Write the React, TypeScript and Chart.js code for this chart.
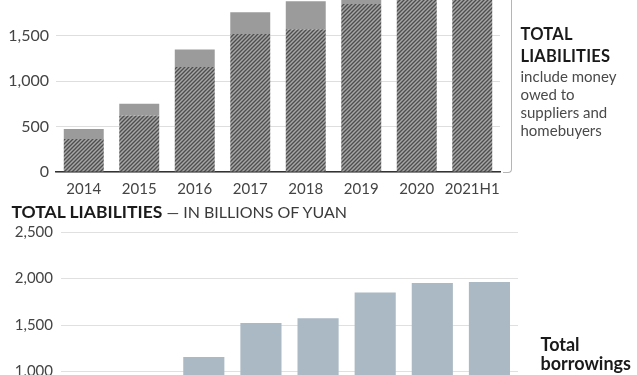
import React, { useEffect, useRef } from 'react';
import { Chart, registerables } from 'chart.js';

Chart.register(...registerables);

// ---- data ----
const years = ['2014', '2015', '2016', '2017', '2018', '2019', '2020', '2021H1'];
const borrowings = [364, 621, 1156, 1521, 1573, 1849, 1951, 1962];
const otherLiabilities = [110, 132, 192, 239, 308, 141, 60, 50];
const yMax = 2500;
const yStep = 500;

const topTitleBold = 'TOTAL';
const topTitleBold2 = 'LIABILITIES';
const topNote = ['include money', 'owed to', 'suppliers and', 'homebuyers'];
const bottomTitleBold = 'TOTAL LIABILITIES';
const bottomTitleRest = ' \u2014 IN BILLIONS OF YUAN';
const bottomNote = ['Total', 'borrowings'];

const FONT = 'Lato, "Open Sans", sans-serif';

function makeHatch(): CanvasPattern | string {
  const s = 4;
  const c = document.createElement('canvas');
  c.width = s;
  c.height = s;
  const g = c.getContext('2d');
  if (!g) return '#707070';
  g.fillStyle = '#a6a6a6';
  g.fillRect(0, 0, s, s);
  g.strokeStyle = '#4e4e4e';
  g.lineWidth = 1.35;
  g.beginPath();
  g.moveTo(0, s);
  g.lineTo(s, 0);
  g.moveTo(-1, 1);
  g.lineTo(1, -1);
  g.moveTo(s - 1, s + 1);
  g.lineTo(s + 1, s - 1);
  g.stroke();
  const p = g.createPattern(c, 'repeat');
  return p || '#707070';
}

const fmt = (v: any) => Number(v).toLocaleString('en-US');

export default function App() {
  const topRef = useRef<HTMLCanvasElement | null>(null);
  const botRef = useRef<HTMLCanvasElement | null>(null);

  useEffect(() => {
    const hatch = makeHatch();
    const top = new Chart(topRef.current as HTMLCanvasElement, {
      type: 'bar',
      data: {
        labels: years,
        datasets: [
          {
            label: 'Borrowings',
            data: borrowings,
            backgroundColor: hatch as any,
            borderWidth: 0,
            barPercentage: 0.72,
            categoryPercentage: 1,
          },
          {
            label: 'Other liabilities',
            data: otherLiabilities,
            backgroundColor: '#9b9b9b',
            borderWidth: 0,
            barPercentage: 0.72,
            categoryPercentage: 1,
          },
        ],
      },
      options: {
        animation: false,
        responsive: false,
        devicePixelRatio: 1,
        layout: { padding: { top: 25, left: 0, right: 137, bottom: 18 } },
        plugins: { legend: { display: false }, tooltip: { enabled: false } },
        scales: {
          x: {
            stacked: true,
            z: 1,
            grid: { display: false, drawTicks: false },
            border: { display: true, color: '#333', width: 1.5 },
            ticks: { font: { family: FONT, size: 15 }, color: '#444', padding: 8, maxRotation: 0, autoSkip: false },
            afterFit: (s: any) => { s.height = 30; },
          },
          y: {
            stacked: true,
            min: 0,
            max: yMax,
            grid: { color: '#dedede', lineWidth: 1, drawTicks: false },
            border: { display: false },
            ticks: { stepSize: yStep, font: { family: FONT, size: 16 }, color: '#444', padding: 7, callback: fmt },
            afterFit: (s: any) => { s.width = 56; },
          },
        },
      },
    });

    const bot = new Chart(botRef.current as HTMLCanvasElement, {
      type: 'bar',
      data: {
        labels: years,
        datasets: [
          {
            label: 'Total borrowings',
            data: borrowings,
            backgroundColor: '#aab9c3',
            borderWidth: 0,
            barPercentage: 0.72,
            categoryPercentage: 1,
          },
        ],
      },
      options: {
        animation: false,
        responsive: false,
        devicePixelRatio: 1,
        layout: { padding: { top: 32, left: 0, right: 119, bottom: 15.5 } },
        plugins: { legend: { display: false }, tooltip: { enabled: false } },
        scales: {
          x: {
            grid: { display: false, drawTicks: false },
            border: { display: true, color: '#333', width: 1.5 },
            ticks: { font: { family: FONT, size: 15 }, color: '#444', padding: 8, maxRotation: 0, autoSkip: false },
            afterFit: (s: any) => { s.height = 30; },
          },
          y: {
            min: 0,
            max: yMax,
            z: 1,
            grid: { color: 'rgba(0,0,0,0.12)', lineWidth: 1, drawTicks: false },
            border: { display: false },
            ticks: { stepSize: yStep, font: { family: FONT, size: 15 }, color: '#444', padding: 8, callback: fmt },
            afterFit: (s: any) => { s.width = 61; },
          },
        },
      },
    });

    return () => {
      top.destroy();
      bot.destroy();
    };
  }, []);

  const line = (
    text: string,
    left: number,
    baseline: number,
    size: number,
    weight: number,
    color: string,
    spacing = 0
  ) => (
    <div
      style={{
        position: 'absolute',
        left,
        top: baseline - 0.887 * size,
        fontFamily: FONT,
        fontSize: size,
        lineHeight: 1,
        fontWeight: weight,
        color,
        letterSpacing: spacing,
        whiteSpace: 'pre',
      }}
    >
      {text}
    </div>
  );

  return (
    <div
      style={{
        position: 'fixed',
        left: 0,
        top: 0,
        width: 637,
        height: 375,
        overflow: 'hidden',
        background: '#fff',
      }}
    >
      <canvas
        ref={topRef}
        width={637}
        height={300}
        style={{ position: 'absolute', left: 0, top: -80, width: 637, height: 300 }}
      />
      <canvas
        ref={botRef}
        width={637}
        height={310}
        style={{ position: 'absolute', left: 0, top: 200, width: 637, height: 310 }}
      />
      {/* bracket */}
      <div
        style={{
          position: 'absolute',
          left: 503,
          top: -10,
          width: 8,
          height: 182,
          borderRight: '1px solid #b5b5b5',
          borderBottom: '1px solid #b5b5b5',
          borderBottomRightRadius: 4,
        }}
      />
      {line(topTitleBold, 520.5, 41, 16.5, 700, '#1a1a1a', 0.2)}
      {line(topTitleBold2, 520.5, 62.7, 16.5, 700, '#1a1a1a', 0.2)}
      {topNote.map((t, i) => (
        <React.Fragment key={t}>{line(t, 520.5, 82.3 + i * 18.1, 15, 400, '#4a4a4a')}</React.Fragment>
      ))}
      <div
        style={{
          position: 'absolute',
          left: 11.5,
          top: 217.3 - 0.887 * 16,
          fontFamily: FONT,
          fontSize: 16,
          lineHeight: 1,
          whiteSpace: 'pre',
        }}
      >
        <span style={{ fontWeight: 700, fontSize: 17.5, color: '#1a1a1a' }}>{bottomTitleBold}</span>
        <span style={{ fontWeight: 400, color: '#3a3a3a' }}>{bottomTitleRest}</span>
      </div>
      {bottomNote.map((t, i) => (
        <React.Fragment key={t}>{line(t, 540.5, 350.7 + i * 19.3, 18, 700, '#1a1a1a')}</React.Fragment>
      ))}
    </div>
  );
}
